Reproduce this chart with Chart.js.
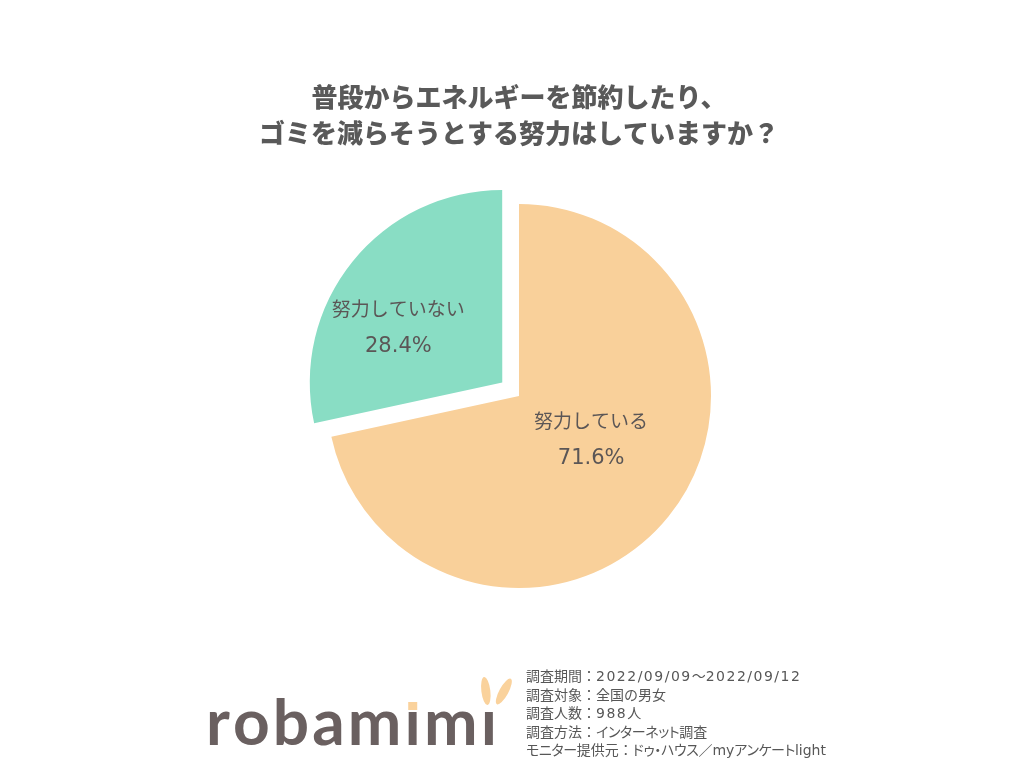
<!DOCTYPE html>
<html lang="ja">
<head>
<meta charset="utf-8">
<title>努力しているかの調査</title>
<script src="https://cdn.jsdelivr.net/npm/chart.js@4/dist/chart.umd.min.js"></script>
<style>
  html, body { margin: 0; padding: 0; background: #ffffff; }
  #wrap { position: relative; width: 1024px; height: 771px; }
  canvas { display: block; }
  #notes {
    position: absolute; left: 526px; top: 667px;
    font: 14px "DejaVu Sans", "Noto Sans CJK JP", sans-serif;
    line-height: 18.6px; color: #575757; white-space: nowrap;
  }
  #notes .kana { font-feature-settings: "palt" 1; letter-spacing: -0.4px; }
  #notes .num { letter-spacing: 1.5px; }
</style>
</head>
<body>
<div id="wrap"><canvas id="chart" width="1024" height="771"></canvas><div id="notes"></div></div>
<script>
// Survey question and answers
const titleLines = ['普段からエネルギーを節約したり、', 'ゴミを減らそうとする努力はしていますか？'];
const categories = ['努力している', '努力していない'];
const shares = [71.6, 28.4];
const sliceColors = ['#F9D09A', '#89DDC4'];
const sliceOffsets = [0, 86];
const surveyNotes = [
  '調査期間：2022/09/09〜2022/09/12',
  '調査対象：全国の男女',
  '調査人数：988人',
  '調査方法：インターネット調査',
  'モニター提供元：ドゥ・ハウス／myアンケートlight'
];
const brandName = 'robamımı';

const TEXT = '#5b5656';
const JP = '"Noto Sans CJK JP", "Noto Sans", sans-serif';

// Survey notes: katakana runs set proportionally, numbers slightly tracked
const notesEl = document.getElementById('notes');
surveyNotes.forEach(line => {
  const row = document.createElement('div');
  line.split(/([\u30A0-\u30FF]+|[0-9\/]+)/).filter(Boolean).forEach(part => {
    const span = document.createElement('span');
    if (/^[\u30A0-\u30FF]+$/.test(part)) span.className = 'kana';
    else if (/^[0-9\/]+$/.test(part)) span.className = 'num';
    span.textContent = part;
    row.appendChild(span);
  });
  notesEl.appendChild(row);
});

// How far Chart.js actually shifts an arc for a given offset option
function arcShift(arc, offset) {
  const circ = arc.endAngle - arc.startAngle;
  const fix = 1 - Math.sin(Math.min(Math.PI, circ || 0));
  return (offset / 4) * (1 + fix);
}

// Slice labels: category name above, percentage below, placed inside each slice
const sliceLabels = {
  id: 'sliceLabels',
  afterDatasetsDraw(chart) {
    const ctx = chart.ctx;
    const meta = chart.getDatasetMeta(0);
    const place = [{ f: 0.44, turn: -7.5 }, { f: 0.61, turn: -11 }];
    meta.data.forEach((arc, i) => {
      const p = arc.getProps(['x', 'y', 'startAngle', 'endAngle', 'outerRadius'], true);
      const half = (p.startAngle + p.endAngle) / 2;
      const s = arcShift(p, sliceOffsets[i]);
      const ox = p.x + Math.cos(half) * s;
      const oy = p.y + Math.sin(half) * s;
      const mid = half + place[i].turn * Math.PI / 180;
      const r = p.outerRadius * place[i].f;
      const cx = ox + Math.cos(mid) * r;
      const cy = oy + Math.sin(mid) * r;
      ctx.save();
      ctx.fillStyle = TEXT;
      ctx.textAlign = 'center';
      ctx.textBaseline = 'middle';
      ctx.font = '19px ' + JP;
      ctx.fillText(categories[i], cx, cy - 19);
      ctx.font = '21px "DejaVu Sans", ' + JP;
      ctx.fillText(shares[i].toFixed(1) + '%', cx, cy + 19);
      ctx.restore();
    });
  }
};

// Title and brand mark around the pie
const decorations = {
  id: 'decorations',
  afterDraw(chart) {
    const ctx = chart.ctx;
    ctx.save();
    // title
    ctx.fillStyle = '#595959';
    ctx.textAlign = 'center';
    ctx.textBaseline = 'middle';
    ctx.font = '900 26px ' + JP;
    ctx.fillText(titleLines[0], 519, 97);
    ctx.fillText(titleLines[1], 519, 133);

    // brand mark
    ctx.textAlign = 'left';
    ctx.fillStyle = '#6a6060';
    ctx.textBaseline = 'alphabetic';
    ctx.font = 'bold 64px Lato, sans-serif';
    const chars = Array.from(brandName);
    const widths = chars.map(c => ctx.measureText(c).width);
    const sum = widths.reduce((a, b) => a + b, 0);
    const left = 206, right = 497;
    const gap = (right - left - sum) / (chars.length - 1);
    let x = left;
    const centers = [];
    chars.forEach((c, i) => {
      ctx.fillText(c, x, 745);
      centers.push(x + widths[i] / 2);
      x += widths[i] + gap;
    });
    // square dot over the first ı
    ctx.fillStyle = '#FAD29C';
    ctx.fillRect(centers[5] - 4.5, 702, 9, 8);
    // ears over the last ı
    const ex = centers[7];
    ctx.beginPath();
    ctx.ellipse(ex - 3, 691, 4.5, 14, -0.12, 0, Math.PI * 2);
    ctx.fill();
    ctx.beginPath();
    ctx.ellipse(ex + 15, 691.5, 4.5, 14.5, 0.5, 0, Math.PI * 2);
    ctx.fill();
    ctx.restore();
  }
};

new Chart(document.getElementById('chart'), {
  type: 'pie',
  data: {
    labels: categories,
    datasets: [{
      data: shares,
      backgroundColor: sliceColors,
      borderWidth: 0,
      offset: sliceOffsets,
      radius: 192
    }]
  },
  options: {
    responsive: false,
    animation: false,
    rotation: 0,
    layout: { padding: { left: 114, right: 100, top: 121, bottom: 100 } },
    plugins: {
      legend: { display: false },
      tooltip: { enabled: false },
      title: { display: false }
    }
  },
  plugins: [sliceLabels, decorations]
});
</script>
</body>
</html>
